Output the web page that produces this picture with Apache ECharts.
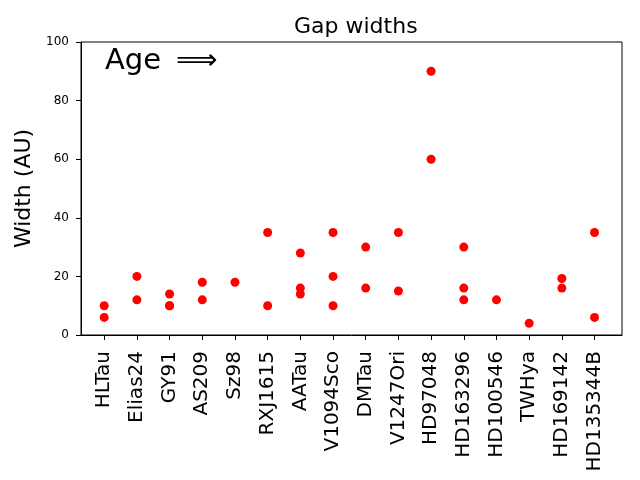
<!DOCTYPE html>
<html>
<head>
<meta charset="utf-8">
<script src="https://cdn.jsdelivr.net/npm/echarts@6/dist/echarts.min.js"></script>
<style>
  html, body { margin: 0; padding: 0; background: #fff; }
  #chart { width: 640px; height: 480px; }
</style>
</head>
<body>
<div id="chart"></div>
<script>
// disks ordered by age
const disks = ['HLTau', 'Elias24', 'GY91', 'AS209', 'Sz98', 'RXJ1615', 'AATau', 'V1094Sco',
  'DMTau', 'V1247Ori', 'HD97048', 'HD163296', 'HD100546', 'TWHya', 'HD169142', 'HD135344B']
// gap widths (AU) for each disk
const gapWidths = [
  [10, 6],
  [20, 12],
  [14, 10, 10],
  [18, 12],
  [18],
  [35, 10],
  [28, 16, 14],
  [35, 20, 10],
  [30, 16],
  [35, 15],
  [90, 60],
  [30, 16, 12],
  [12],
  [4],
  [19.3, 16],
  [35, 6]
]
const yTicks = [0, 20, 40, 60, 80, 100]

const diskIdx = disks.map((d, i) => i)
const points = []
gapWidths.forEach((list, i) => {
  list.forEach(w => points.push([i, w]))
})

const font = 'DejaVu Sans'
const chart = echarts.init(document.getElementById('chart'))
chart.setOption({
  animation: false,
  textStyle: { fontFamily: font },
  title: {
    text: 'Gap widths',
    left: 289,
    top: 11,
    textStyle: { fontFamily: font, fontSize: 22, fontWeight: 'normal', color: '#000' }
  },
  grid: {
    left: 81, right: 18, top: 42, bottom: 145,
    show: true, borderColor: '#000', borderWidth: 1
  },
  graphic: [
    { type: 'text', left: 105, top: 47, style: { text: 'Age', fontFamily: font, fontSize: 29, fill: '#000' } },
    { type: 'text', left: 176, top: 47, style: { text: '\u27F9', fontFamily: font, fontSize: 29, fill: '#000' } }
  ],
  xAxis: {
    type: 'value',
    min: -0.71,
    max: 15.84,
    axisLine: { show: true, onZero: false, lineStyle: { color: '#000' } },
    axisTick: { show: true, customValues: diskIdx, length: 5, lineStyle: { color: '#000' } },
    axisLabel: {
      customValues: diskIdx,
      rotate: 90, fontSize: 20, color: '#000', fontFamily: font, margin: 16,
      formatter: v => disks[v]
    },
    splitLine: { show: false }
  },
  yAxis: {
    type: 'value',
    min: 0,
    max: 100,
    interval: 20,
    name: 'Width (AU)',
    nameLocation: 'middle',
    nameGap: 44,
    nameTextStyle: { fontSize: 22, color: '#000', fontFamily: font },
    axisLine: { show: true, onZero: false, lineStyle: { color: '#000' } },
    axisTick: { show: true, length: 5, lineStyle: { color: '#000' } },
    axisLabel: {
      fontSize: 12, color: '#000', fontFamily: font, margin: 12,
      formatter: v => (yTicks.includes(v) ? String(v) : '')
    },
    splitLine: { show: false }
  },
  series: [{
    type: 'scatter',
    data: points,
    symbolSize: 9,
    itemStyle: { color: '#ff0000', opacity: 1 }
  }]
})
</script>
</body>
</html>
